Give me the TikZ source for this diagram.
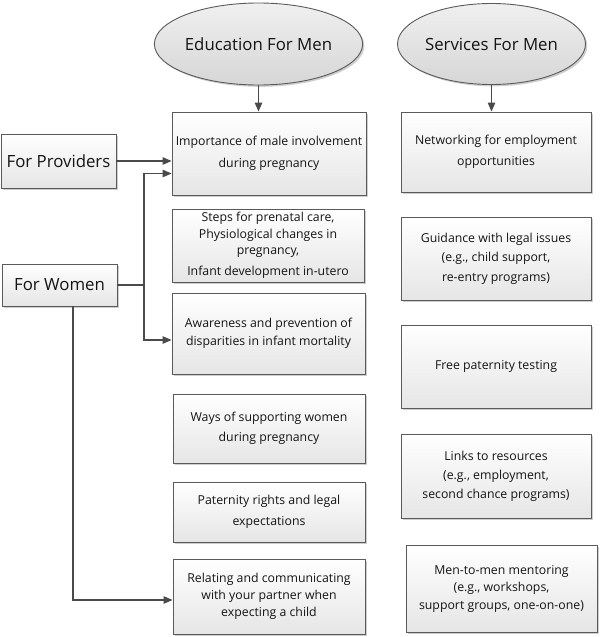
\documentclass[tikz,border=0pt]{standalone}
\usepackage{fontspec}
\setmainfont{Open Sans}
\usetikzlibrary{arrows.meta,shadows,shapes.geometric}
\definecolor{lnc}{HTML}{5A5A5A}
\definecolor{arc}{HTML}{4A4A4A}
\definecolor{txc}{HTML}{141414}
\newcommand\lsk[1]{\fontsize{12.3}{#1}\selectfont}
\tikzset{
 boxst/.style={draw=lnc, line width=0.9pt, rectangle, inner sep=0pt, top color=white, bottom color=black!10,
   drop shadow={shadow xshift=1.8pt, shadow yshift=-1.8pt, fill=black!35, opacity=0.55},
   text=txc, align=center, font=\lsk{19}},
 ellst/.style={draw=lnc, line width=0.9pt, ellipse, inner sep=0pt, top color=black!6, bottom color=black!16,
   drop shadow={shadow xshift=1.8pt, shadow yshift=-1.8pt, fill=black!35, opacity=0.55},
   text=txc, font=\fontsize{16.8}{20}\selectfont},
 sidest/.style={boxst, font=\fontsize{16.8}{20}\selectfont},
 arr/.style={draw=arc, line width=1.2pt, -{Triangle[length=9pt,width=7.5pt]}},
 lnk/.style={draw=arc, line width=1.2pt}
}
\begin{document}
\begin{tikzpicture}[x=1pt,y=-1pt]
\useasboundingbox (0,0) rectangle (600,637);
% ellipses
\node[ellst, minimum width=173pt, minimum height=82pt] (ed) at (258.5,44) {Education For Men};
\node[ellst, minimum width=176pt, minimum height=81pt] (sv) at (491.5,44) {Services For Men};
% left column
\node[boxst, minimum width=194pt, minimum height=83pt, font=\lsk{21.5}] (b1) at (269,153.5) {Importance of male involvement\\during pregnancy};
\node[boxst, minimum width=192pt, minimum height=73pt, font=\lsk{16.5}] (b2) at (268,245.5) {Steps for prenatal care,\\Physiological changes in\\pregnancy,\\[4pt]Infant development in-utero};
\node[boxst, minimum width=193pt, minimum height=81pt, font=\lsk{18}] (b3) at (268.5,333.5) {Awareness and prevention of\\disparities in infant mortality};
\node[boxst, minimum width=192pt, minimum height=69pt, font=\lsk{20}] (b4) at (269,428.5) {Ways of supporting women\\during pregnancy};
\node[boxst, minimum width=192pt, minimum height=60pt, font=\lsk{21.5}] (b5) at (269,512) {Paternity rights and legal\\expectations};
\node[boxst, minimum width=192pt, minimum height=75pt, font=\lsk{17}] (b6) at (269,596.5) {Relating and communicating\\with your partner when\\expecting a child};
% right column
\node[boxst, minimum width=190pt, minimum height=80pt, font=\lsk{21}] (r1) at (496,152) {Networking for employment\\opportunities};
\node[boxst, minimum width=190pt, minimum height=83pt, font=\lsk{19.5}] (r2) at (496,258.5) {Guidance with legal issues\\(e.g., child support,\\re-entry programs)};
\node[boxst, minimum width=190pt, minimum height=83pt] (r3) at (496,366.5) {Free paternity testing};
\node[boxst, minimum width=190pt, minimum height=84pt, font=\lsk{19}] (r4) at (496,476) {Links to resources\\(e.g., employment,\\second chance programs)};
\node[boxst, minimum width=191pt, minimum height=87pt, font=\lsk{17.5}] (r5) at (501.5,588.5) {Men-to-men mentoring\\(e.g., workshops,\\support groups, one-on-one)};
% side boxes
\node[sidest, minimum width=115pt, minimum height=54pt] (prov) at (58.5,161) {For Providers};
\node[sidest, minimum width=115pt, minimum height=42pt] (wom) at (59.5,285) {For Women};
% connectors
\draw[arr] (ed.south) -- (ed.south |- b1.north);
\draw[arr] (sv.south) -- (sv.south |- r1.north);
\draw[arr] (prov.east) -- (prov.east -| b1.west);
\coordinate (j) at (144,285);
\draw[lnk] (wom.east) -- (j);
\draw[arr] (j) |- ([yshift=-20pt]b1.west);
\draw[arr] (j) |- ([yshift=-6.5pt]b3.west);
\draw[arr] ([xshift=13.5pt]wom.south) |- ([yshift=-3.5pt]b6.west);
\end{tikzpicture}
\end{document}
